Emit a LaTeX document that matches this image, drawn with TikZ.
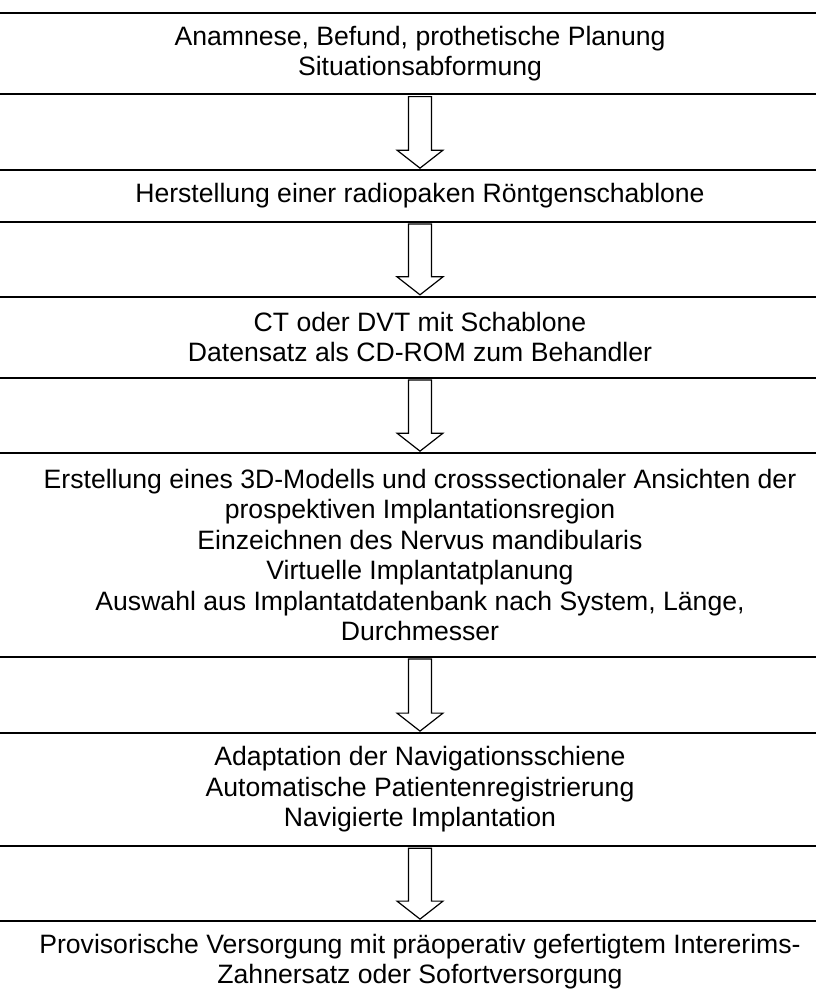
\documentclass[tikz,border=0pt]{standalone}
\usepackage{fontspec}
\setmainfont{Liberation Sans}
\usetikzlibrary{calc}
% block arrow from the lower edge of box #1 to the upper edge of box #2
\newcommand{\flowarrow}[2]{%
  \draw[arrowline] ($(#1.south)+(-11.5,1.4)$) -- ($(#2.north)+(-11.5,-19)$)
    -- ($(#2.north)+(-23,-19)$) -- ($(#2.north)+(0,-1)$)
    -- ($(#2.north)+(23,-19)$) -- ($(#2.north)+(11.5,-19)$)
    -- ($(#1.south)+(11.5,1.4)$) -- cycle;}
\begin{document}
\begin{tikzpicture}[x=1pt,y=-1pt,
  stepbox/.style={draw,line width=1.8pt,minimum width=920pt,inner sep=0pt,
    align=center,font=\fontsize{26.6}{30.5}\selectfont},
  arrowline/.style={line width=1.2pt,line join=miter}]
\useasboundingbox (0,0) rectangle (816,998);
\clip (0,0) rectangle (816,998);
\node[stepbox,minimum height=81.6pt] (anamnese) at (420,53.5)
  {Anamnese, Befund, prothetische Planung\\Situationsabformung};
\node[stepbox,minimum height=51.7pt] (schablone) at (420,195.9)
  {Herstellung einer radiopaken Röntgenschablone};
\node[stepbox,minimum height=81pt] (ct) at (420,337.2)
  {CT oder DVT mit Schablone\\Datensatz als CD-ROM zum Behandler};
\node[stepbox,minimum height=203.7pt] (planung) at (420,554.9)
  {Erstellung eines 3D-Modells und crosssectionaler Ansichten der\\
   prospektiven Implantationsregion\\
   Einzeichnen des Nervus mandibularis\\
   Virtuelle Implantatplanung\\
   Auswahl aus Implantatdatenbank nach System, Länge,\\
   Durchmesser};
\node[stepbox,minimum height=113pt] (navigation) at (420,789.5)
  {Adaptation der Navigationsschiene\\
   Automatische Patientenregistrierung\\
   Navigierte Implantation};
\node[stepbox,minimum height=81pt] (versorgung) at (420,961.5)
  {Provisorische Versorgung mit präoperativ gefertigtem Intererims-\\
   Zahnersatz oder Sofortversorgung};
\flowarrow{anamnese}{schablone}
\flowarrow{schablone}{ct}
\flowarrow{ct}{planung}
\flowarrow{planung}{navigation}
\flowarrow{navigation}{versorgung}
\end{tikzpicture}
\end{document}
